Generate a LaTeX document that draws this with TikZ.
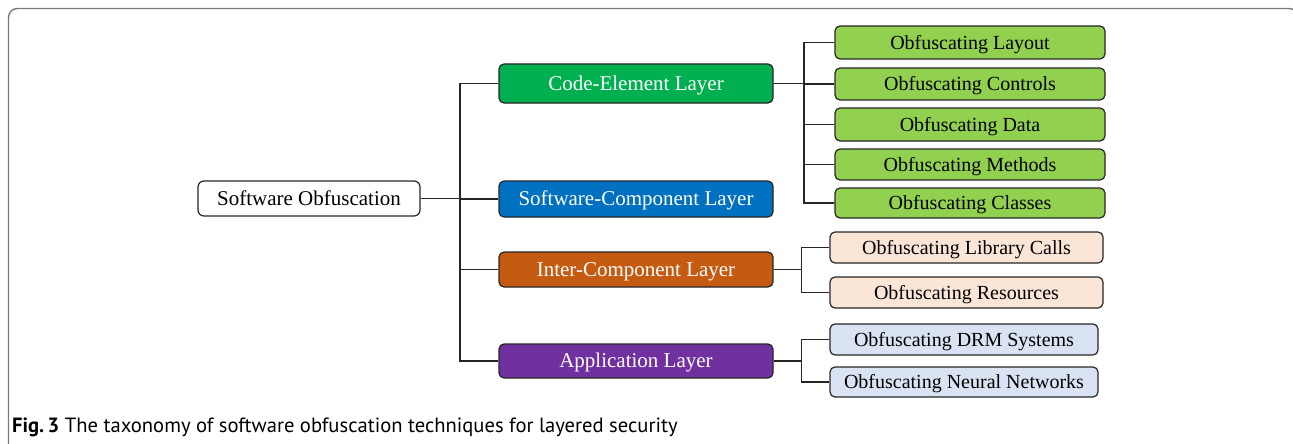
\documentclass[tikz,border=0pt]{standalone}
\usepackage{fontspec}
\setmainfont{Liberation Serif}
\newfontfamily\capfont{PT Sans}
\definecolor{codegreen}{HTML}{00B050}
\definecolor{compblue}{HTML}{0070C0}
\definecolor{interorange}{HTML}{C55A11}
\definecolor{apppurple}{HTML}{7030A0}
\definecolor{leafgreen}{HTML}{92D050}
\definecolor{leafpeach}{HTML}{FBE5D6}
\definecolor{leafblue}{HTML}{DAE3F3}
\definecolor{boxline}{HTML}{262626}
\definecolor{frameline}{HTML}{7A7A7A}
\tikzset{
  basebox/.style={draw=boxline, line width=1.2pt, rounded corners=5pt, inner sep=0pt, anchor=center,
    text depth=0pt},
  rootbox/.style={basebox, fill=white, minimum width=222pt, minimum height=35pt, rounded corners=6pt,
    font=\fontsize{21}{24}\selectfont, text height=13.9pt},
  layerbox/.style={basebox, text=white, minimum width=274pt, font=\fontsize{21}{24}\selectfont,
    text height=13.9pt},
  leafbox/.style={basebox, text=black, font=\fontsize{20}{23}\selectfont, text height=13.2pt},
  link/.style={draw=black!85, line width=1.2pt},
}
\begin{document}
\begin{tikzpicture}[x=1pt,y=-1pt]
\useasboundingbox (0,0) rectangle (1293,444);
% outer frame
\draw[frameline, line width=1.4pt, rounded corners=9pt] (8.5,460) -- (8.5,8.5) -- (1298,8.5) -- (1298,460);

% root and layers
\node[rootbox] (root) at (309,198.5) {Software Obfuscation};
\node[layerbox, fill=codegreen, minimum height=39pt] (ce) at (636,83.5) {Code-Element Layer};
\node[layerbox, fill=compblue, minimum height=36pt] (sc) at (636,199) {Software-Component Layer};
\node[layerbox, fill=interorange, minimum height=35pt] (ic) at (636,269.5) {Inter-Component Layer};
\node[layerbox, fill=apppurple, minimum height=34pt] (al) at (636,361) {Application Layer};

% code-element techniques
\node[leafbox, fill=leafgreen, minimum width=270pt, minimum height=33pt] (g1) at (970,42.5) {Obfuscating Layout};
\node[leafbox, fill=leafgreen, minimum width=270pt, minimum height=32pt] (g2) at (970,84) {Obfuscating Controls};
\node[leafbox, fill=leafgreen, minimum width=270pt, minimum height=33pt] (g3) at (970,124.5) {Obfuscating Data};
\node[leafbox, fill=leafgreen, minimum width=270pt, minimum height=31pt] (g4) at (970,164.5) {Obfuscating Methods};
\node[leafbox, fill=leafgreen, minimum width=270pt, minimum height=30pt] (g5) at (970,203) {Obfuscating Classes};

% inter-component techniques
\node[leafbox, fill=leafpeach, minimum width=273pt, minimum height=31pt] (p1) at (966.5,247.5) {Obfuscating Library Calls};
\node[leafbox, fill=leafpeach, minimum width=273pt, minimum height=31pt] (p2) at (966.5,292.5) {Obfuscating Resources};

% application techniques
\node[leafbox, fill=leafblue, minimum width=268pt, minimum height=31pt] (b1) at (964,339.5) {Obfuscating DRM Systems};
\node[leafbox, fill=leafblue, minimum width=268pt, minimum height=30pt] (b2) at (964,382) {Obfuscating Neural Networks};

% junction columns
\coordinate (tx) at (460,0);
\coordinate (gx) at (804,0);
\coordinate (px) at (801.5,0);

% connectors
\foreach \n in {ce,sc,ic,al}
  \draw[link] (root.east) -- (root.east -| tx) |- (\n.west);
\foreach \n in {g1,g2,g3,g4,g5}
  \draw[link] (ce.east) -- (ce.east -| gx) |- (\n.west);
\foreach \n in {p1,p2}
  \draw[link] (ic.east) -- (ic.east -| px) |- (\n.west);
\foreach \n in {b1,b2}
  \draw[link] (al.east) -- (al.east -| px) |- (\n.west);

% caption
\node[anchor=base west, inner sep=0pt, font=\capfont\fontsize{20.6}{23}\selectfont] (cap) at (12,432)
  {\textbf{Fig.\,3} The taxonomy of software obfuscation techniques for layered security};
\end{tikzpicture}
\end{document}
